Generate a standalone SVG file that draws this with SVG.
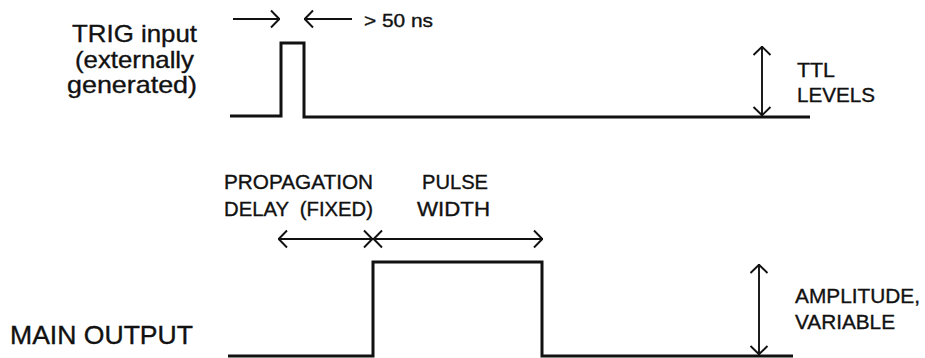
<svg xmlns="http://www.w3.org/2000/svg" width="925" height="358" viewBox="0 0 925 358">
<style>
.sig{fill:none;stroke:#111;stroke-width:3;stroke-linejoin:miter}
.arr{fill:none;stroke:#111;stroke-width:1.9}
.lbl{font-family:"Liberation Sans",Arial,sans-serif;fill:#111;stroke:#111;stroke-width:0.35}
.big{font-size:24px}
.sm{font-size:20px}
</style>
<defs>
<marker id="ah" viewBox="0 0 10 20" refX="10" refY="10" markerWidth="10" markerHeight="20" markerUnits="userSpaceOnUse" orient="auto-start-reverse">
<path d="M1,1.5 L9.3,10 L1,18.5" fill="none" stroke="#111" stroke-width="1.9"/>
</marker>
</defs>
<rect width="925" height="358" fill="#fff"/>
<g id="trig-label">
<text class="lbl big" x="197" y="42" text-anchor="end" textLength="125" lengthAdjust="spacingAndGlyphs">TRIG input</text>
<text class="lbl big" x="194" y="68" text-anchor="end" textLength="119" lengthAdjust="spacingAndGlyphs">(externally</text>
<text class="lbl big" x="197" y="93" text-anchor="end" textLength="130" lengthAdjust="spacingAndGlyphs">generated)</text>
</g>
<g id="trig-signal">
<path class="sig" d="M230,116 H281 V43 H304 V117 H810"/>
</g>
<g id="main-label">
<text class="lbl" style="font-size:25px" x="10" y="344" textLength="183" lengthAdjust="spacingAndGlyphs">MAIN OUTPUT</text>
</g>
<g id="main-signal">
<path class="sig" d="M228,356 H373 V262 H542 V356 H793"/>
</g>
<g id="ns-label">
<text class="lbl" style="font-size:18px" x="364" y="27" textLength="69" lengthAdjust="spacingAndGlyphs">&gt; 50 ns</text>
</g>
<g id="ttl-label">
<text class="lbl sm" x="797" y="77" textLength="38" lengthAdjust="spacingAndGlyphs">TTL</text>
<text class="lbl sm" x="797" y="102" textLength="78" lengthAdjust="spacingAndGlyphs">LEVELS</text>
</g>
<g id="prop-label">
<text class="lbl sm" x="224" y="189" textLength="149" lengthAdjust="spacingAndGlyphs">PROPAGATION</text>
<text class="lbl sm" x="224" y="216" textLength="149" lengthAdjust="spacingAndGlyphs" xml:space="preserve">DELAY  (FIXED)</text>
</g>
<g id="width-label">
<text class="lbl sm" x="422" y="189" textLength="66" lengthAdjust="spacingAndGlyphs">PULSE</text>
<text class="lbl sm" x="417" y="216" textLength="73" lengthAdjust="spacingAndGlyphs">WIDTH</text>
</g>
<g id="amp-label">
<text class="lbl sm" x="795" y="303" textLength="125" lengthAdjust="spacingAndGlyphs">AMPLITUDE,</text>
<text class="lbl sm" x="795" y="329" textLength="100" lengthAdjust="spacingAndGlyphs">VARIABLE</text>
</g>
<g id="connectors">
<line class="arr" x1="233" y1="19" x2="280" y2="19" marker-end="url(#ah)"/>
<line class="arr" x1="352" y1="19" x2="304" y2="19" marker-end="url(#ah)"/>
<line class="arr" x1="762" y1="46" x2="762" y2="116" marker-start="url(#ah)" marker-end="url(#ah)"/>
<line class="arr" x1="373" y1="239" x2="278" y2="239" marker-start="url(#ah)" marker-end="url(#ah)"/>
<line class="arr" x1="373" y1="239" x2="543" y2="239" marker-start="url(#ah)" marker-end="url(#ah)"/>
<line class="arr" x1="759" y1="264" x2="759" y2="355" marker-start="url(#ah)" marker-end="url(#ah)"/>
</g>
</svg>
